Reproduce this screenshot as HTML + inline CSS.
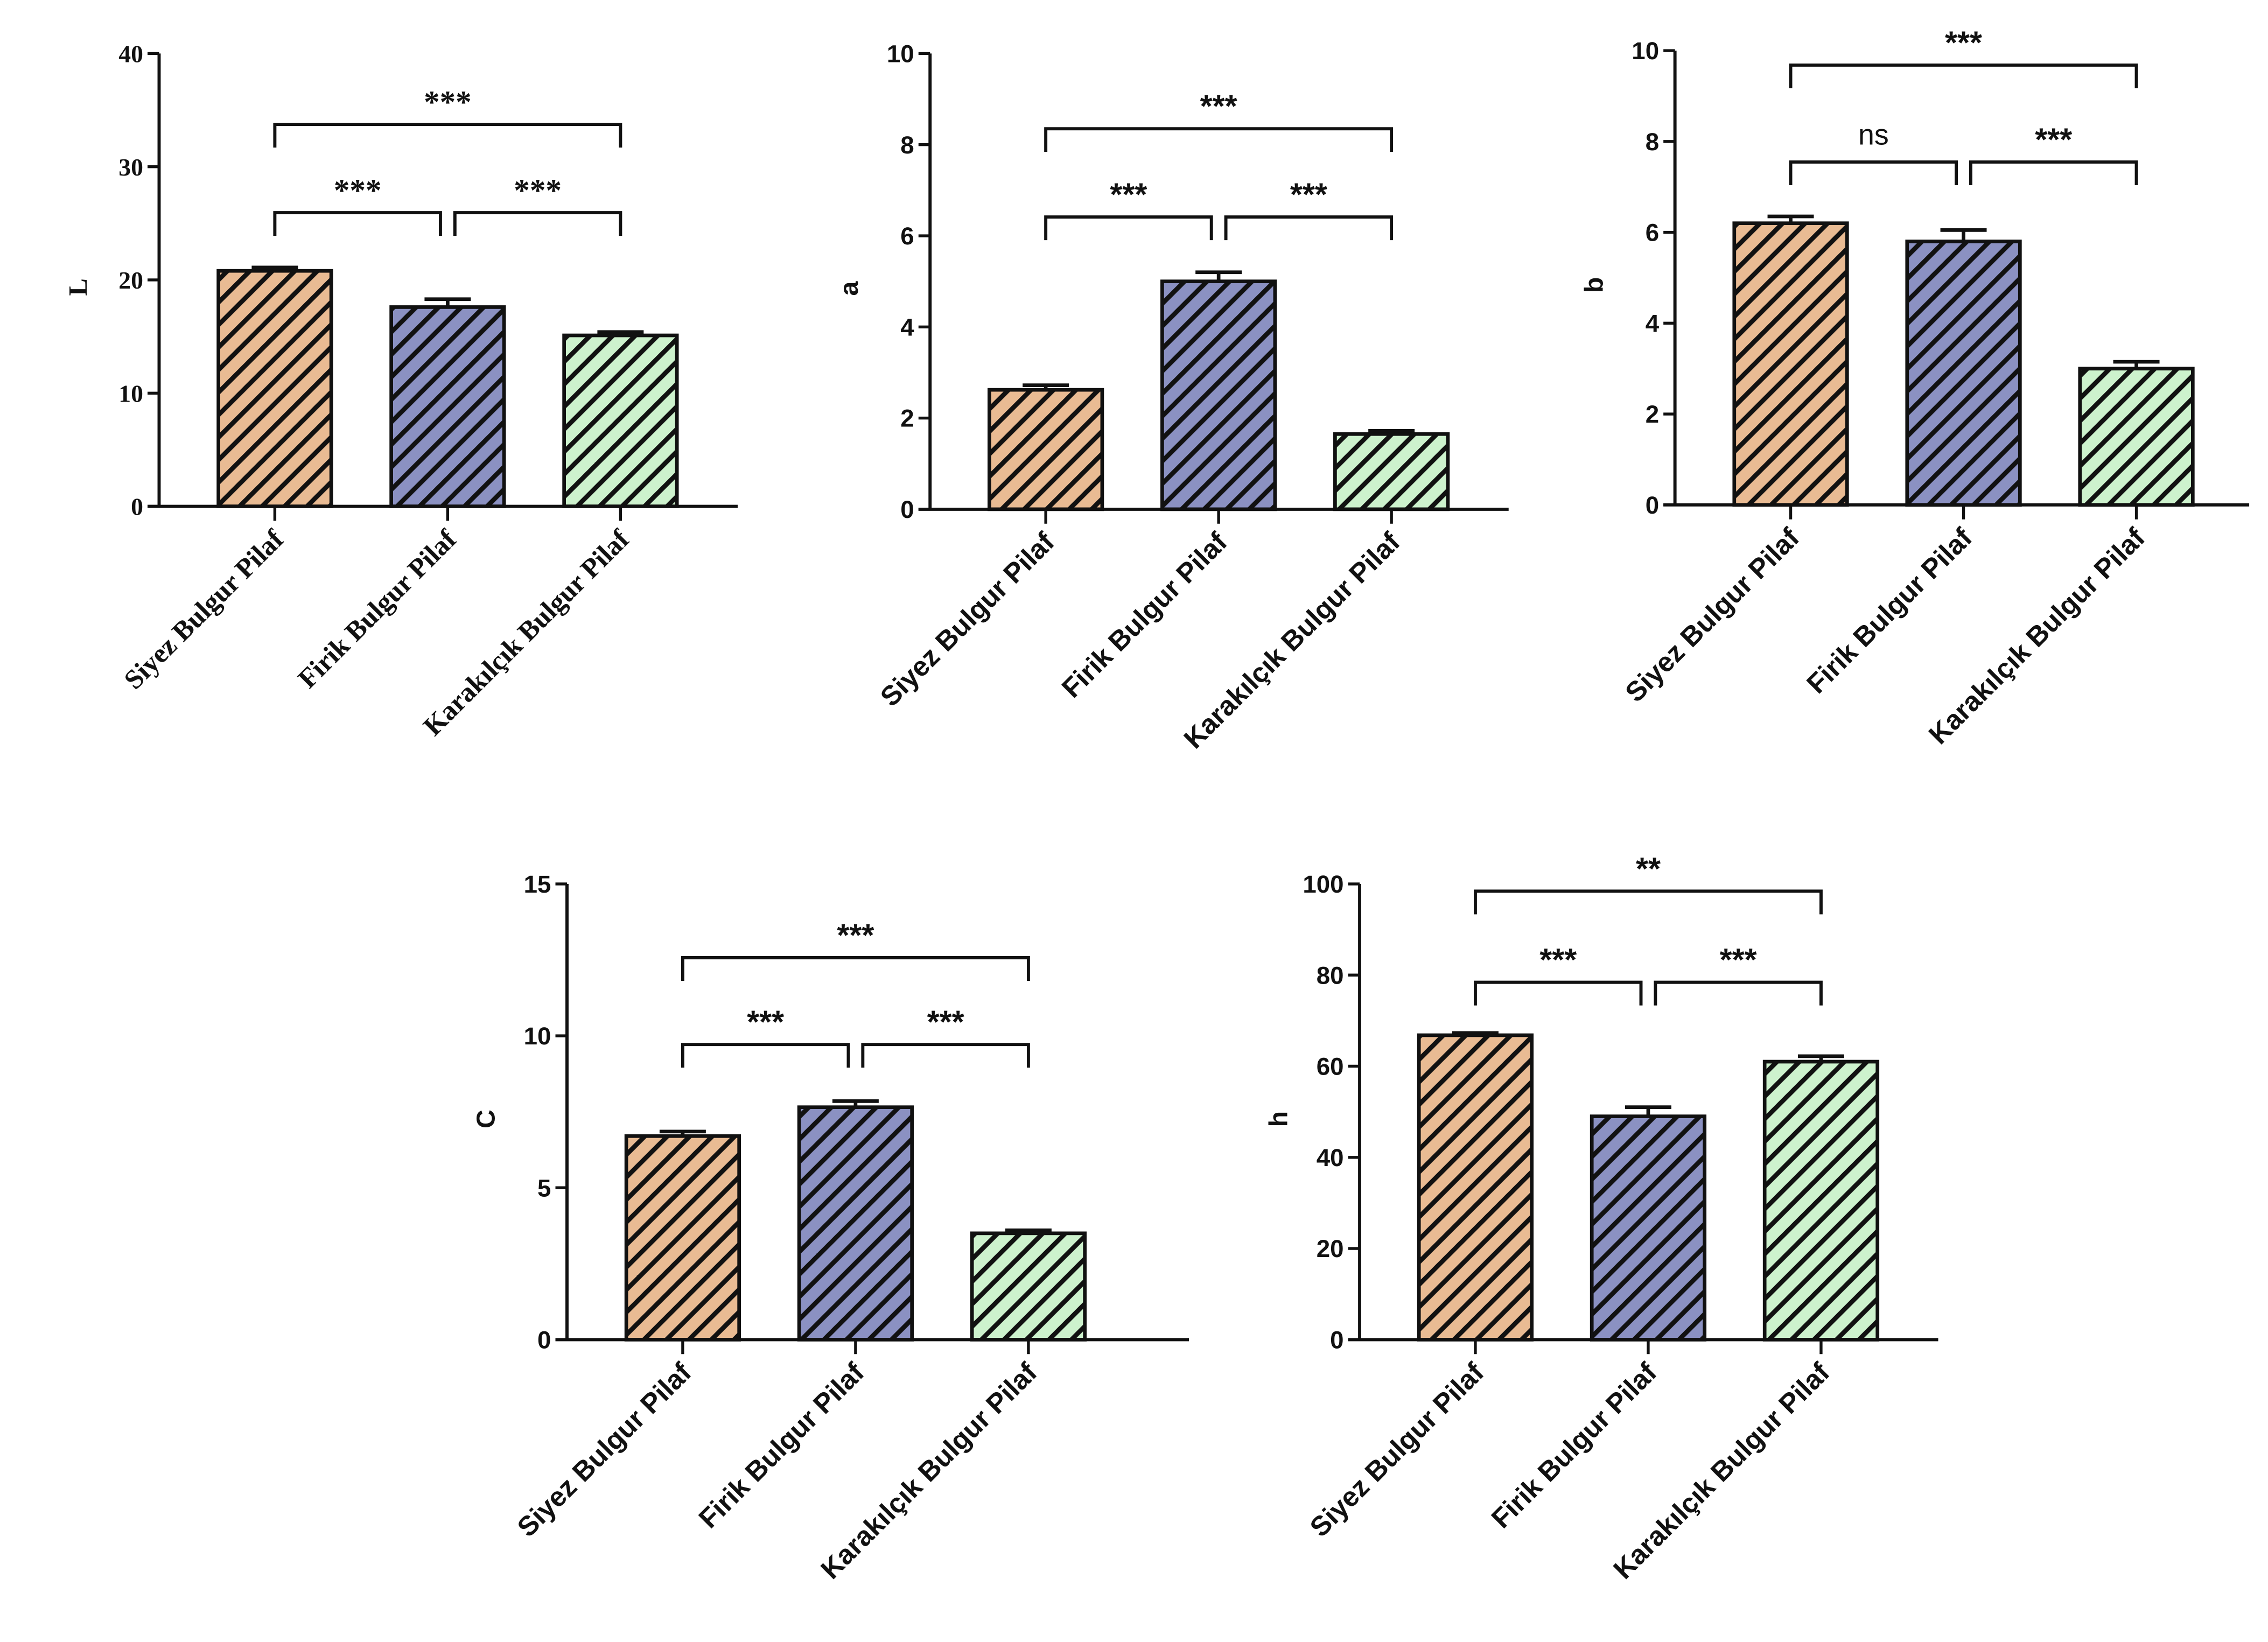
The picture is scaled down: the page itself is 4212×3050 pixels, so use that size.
<!DOCTYPE html>
<html><head><meta charset="utf-8"><style>
html,body{margin:0;padding:0;background:#fff;}
svg{display:block;}
text{fill:#111;}
</style></head><body>
<svg id="fig" width="4212" height="3050" viewBox="0 0 1568 1135" preserveAspectRatio="none" xmlns="http://www.w3.org/2000/svg">
<defs>
<pattern id="hOrange" patternUnits="userSpaceOnUse" width="11" height="11" patternTransform="rotate(45)"><rect width="11" height="11" fill="#e9bb93"/><rect x="0" y="0" width="3.2" height="11" fill="#111"/></pattern>
<pattern id="hBlue" patternUnits="userSpaceOnUse" width="11" height="11" patternTransform="rotate(45)"><rect width="11" height="11" fill="#8b91c2"/><rect x="0" y="0" width="3.2" height="11" fill="#111"/></pattern>
<pattern id="hGreen" patternUnits="userSpaceOnUse" width="11" height="11" patternTransform="rotate(45)"><rect width="11" height="11" fill="#cdf2cd"/><rect x="0" y="0" width="3.2" height="11" fill="#111"/></pattern>
</defs>
</svg>
<script>
const categories = ["Siyez Bulgur Pilaf","Firik Bulgur Pilaf","Karakılçık Bulgur Pilaf"];
const valuesL = [20.8, 17.6, 15.1];
const errL = [0.3, 0.7, 0.3];
const valuesA = [2.62, 5.0, 1.65];
const errA = [0.1, 0.2, 0.07];
const valuesB = [6.2, 5.8, 3.0];
const errB = [0.15, 0.25, 0.15];
const valuesC = [6.7, 7.65, 3.5];
const errC = [0.15, 0.2, 0.1];
const valuesH = [66.8, 49.0, 61.0];
const errH = [0.5, 2.0, 1.2];
const ticksL = [0,10,20,30,40];
const ticksA = [0,2,4,6,8,10];
const ticksB = [0,2,4,6,8,10];
const ticksC = [0,5,10,15];
const ticksH = [0,20,40,60,80,100];
const sigL = ["***","***","***"];
const sigA = ["***","***","***"];
const sigB = ["ns","***","***"];
const sigC = ["***","***","***"];
const sigH = ["***","***","**"];

const NS="http://www.w3.org/2000/svg";
const svg=document.getElementById('fig');
const fills=["url(#hOrange)","url(#hBlue)","url(#hGreen)"];
function mk(tag,attrs,parent){const e=document.createElementNS(NS,tag);for(const k in attrs)e.setAttribute(k,attrs[k]);(parent||svg).appendChild(e);return e;}

function chart(cfg){
  const g=mk('g',{});
  
  
  const max=cfg.ticks[cfg.ticks.length-1];
  const y=v=>cfg.y0-(v/max)*(cfg.y0-cfg.yTop);
  const xc=i=>cfg.x0+80+i*119.5;
  const ff=cfg.serif?'font-family:"Liberation Serif",serif':'font-family:"Liberation Sans",sans-serif';
  const ya=mk('line',{x1:cfg.x0,y1:cfg.yTop,x2:cfg.x0,y2:cfg.y0,stroke:'#111','stroke-width':2.2},g);
  
  
  const xa=mk('line',{x1:cfg.x0-8,y1:cfg.y0,x2:cfg.x1,y2:cfg.y0,stroke:'#111','stroke-width':2.2},g);
  
  
  cfg.ticks.forEach(t=>{
    mk('line',{x1:cfg.x0-8,y1:y(t),x2:cfg.x0,y2:y(t),stroke:'#111','stroke-width':2},g);
    const tl=mk('text',{x:cfg.x0-11,y:y(t)+6,'text-anchor':'end','font-size':17,'font-weight':'bold',style:ff},g);
    tl.textContent=t;
    
    
  });
  const yt=mk('text',{x:0,y:0,'text-anchor':'middle','font-size':18,'font-weight':'bold',style:ff,transform:`translate(${cfg.x0-50},${(cfg.yTop+cfg.y0)/2+5}) rotate(-90)`},g);
  yt.textContent=cfg.label;
  
  
  cfg.values.forEach((v,i)=>{
    const cx=xc(i);
    const b=mk('rect',{x:cx-39,y:y(v),width:78,height:cfg.y0-y(v),fill:fills[i],stroke:'#111','stroke-width':2.5},g);
    
    
    const et=y(v+cfg.err[i]);
    const eb=mk('path',{d:`M${cx},${y(v)}V${et}M${cx-16},${et}H${cx+16}`,stroke:'#111','stroke-width':2.5,fill:'none'},g);
    
    
    mk('line',{x1:cx,y1:cfg.y0,x2:cx,y2:cfg.y0+10,stroke:'#111','stroke-width':2},g);
    const cl=mk('text',{x:0,y:0,'text-anchor':'end','font-size':19,'font-weight':'bold',style:ff,transform:`translate(${cx+7},${cfg.y0+24}) rotate(-45)`},g);
    cl.textContent=categories[i];
    
    
  });
  function bracket(a,b,yy,s){
    const xa=xc(a)+(a===1?5:0), xb=xc(b)-(b===1?5:0);
    const p=mk('path',{d:`M${xa},${yy+16}V${yy}H${xb}V${yy+16}`,stroke:'#111','stroke-width':2.2,fill:'none'},g);
    
    
    const t=mk('text',{x:(xa+xb)/2,y:yy-(s==='ns'?12:8),'text-anchor':'middle','font-size':s==='ns'?20:22,'font-weight':s==='ns'?'normal':'bold',style:ff},g);
    t.textContent=s;
    
    
  }
  bracket(0,1,cfg.lowY,cfg.sig[0]);
  bracket(1,2,cfg.lowY,cfg.sig[1]);
  bracket(0,2,cfg.upY,cfg.sig[2]);
}
chart({id:'L',label:'L',x0:110,x1:510,yTop:37,y0:350,ticks:ticksL,values:valuesL,err:errL,sig:sigL,lowY:147,upY:86,serif:true});
chart({id:'a',label:'a',x0:643,x1:1043,yTop:37,y0:352,ticks:ticksA,values:valuesA,err:errA,sig:sigA,lowY:150,upY:89});
chart({id:'b',label:'b',x0:1158,x1:1555,yTop:35,y0:349,ticks:ticksB,values:valuesB,err:errB,sig:sigB,lowY:112,upY:45});
chart({id:'C',label:'C',x0:392,x1:822,yTop:611,y0:926,ticks:ticksC,values:valuesC,err:errC,sig:sigC,lowY:722,upY:662});
chart({id:'h',label:'h',x0:940,x1:1340,yTop:611,y0:926,ticks:ticksH,values:valuesH,err:errH,sig:sigH,lowY:679,upY:616});
</script>
</body></html>
